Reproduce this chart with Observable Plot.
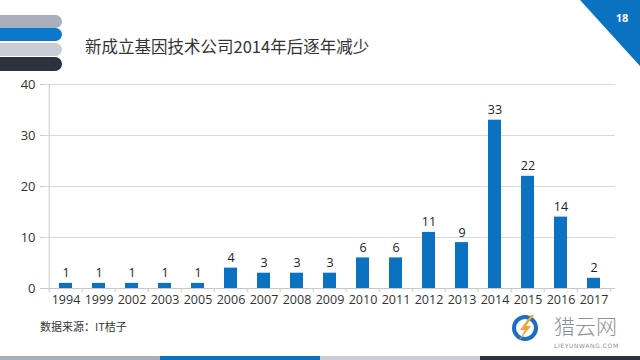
<!DOCTYPE html>
<html>
<head>
<meta charset="utf-8">
<script src="https://cdn.jsdelivr.net/npm/d3@7"></script>
<script src="https://cdn.jsdelivr.net/npm/@observablehq/plot@0.6"></script>
<style>
  html, body { margin: 0; padding: 0; background: #fff; }
  body { width: 640px; height: 360px; position: relative; overflow: hidden;
         font-family: "Open Sans", "Noto Sans CJK SC", sans-serif; }
  #chart { position: absolute; left: 0; top: 0; }
  .abs { position: absolute; }
  .stripe { position: absolute; left: 0; width: 62px; height: 13px; border-radius: 0 7px 7px 0; }
  .title { left: 85px; top: 34px; font-size: 16.5px; color: #333; font-family: "Noto Sans CJK SC", sans-serif; white-space: nowrap; }
  .source { left: 40px; top: 318px; font-size: 11px; color: #333; font-family: "Noto Sans CJK SC", sans-serif; }
  .bottom { position: absolute; top: 356px; height: 4px; width: 160px; }
</style>
</head>
<body>
<div id="chart"></div>

<div class="stripe" style="top:15px;background:#a9b0bb"></div>
<div class="stripe" style="top:28px;background:#0a78cc"></div>
<div class="stripe" style="top:43px;background:#c9cdd4"></div>
<div class="stripe" style="top:57px;background:#2b323d;height:14px"></div>

<div class="abs title">新成立基因技术公司2014年后逐年减少</div>

<svg class="abs" style="left:0;top:0" width="640" height="80">
  <polygon points="580,0 640,0 640,66" fill="#0a72c0"/>
  <text x="622" y="22" fill="#fff" font-size="11" font-weight="bold" text-anchor="middle" font-family="Open Sans, sans-serif">18</text>
</svg>

<div class="abs source">数据来源：IT桔子</div>

<svg class="abs" style="left:500px;top:300px" width="140" height="56">
  <circle cx="25" cy="28" r="11" fill="none" stroke="#1a6fc0" stroke-width="4"/>
  <polygon points="31,15 20,30 25,30 18,42 31,26 26,26 34,15" fill="#f2a43a"/>
  <text x="54" y="34" font-size="21" fill="#8c9198" font-family="Noto Sans CJK SC, sans-serif" font-weight="300">猎云网</text>
  <text x="54" y="48" font-size="6" fill="#8c9198" font-family="DejaVu Sans, sans-serif" letter-spacing="0.6">LIEYUNWANG.COM</text>
</svg>

<div class="bottom" style="left:0;background:#a9b0bb"></div>
<div class="bottom" style="left:160px;background:#0a72c0"></div>
<div class="bottom" style="left:320px;background:#c9cdd4"></div>
<div class="bottom" style="left:480px;background:#2b323d"></div>

<script>
const years = ["1994","1999","2002","2003","2005","2006","2007","2008","2009","2010","2011","2012","2013","2014","2015","2016","2017"];
const counts = [1,1,1,1,1,4,3,3,3,6,6,11,9,33,22,14,2];
const yTicks = [0,10,20,30,40];

const data = years.map((y, i) => ({year: y, count: counts[i]}));

const W = 640, H = 360, mL = 44, mR = 25, mT = 84, mB = 72;
const step = (W - mL - mR) / years.length;

const chart = Plot.plot({
  width: W, height: H,
  marginLeft: mL, marginRight: mR, marginTop: mT, marginBottom: mB,
  style: {fontFamily: "'Open Sans', sans-serif", fontSize: "12px", color: "#333", background: "transparent"},
  x: {domain: years, paddingInner: 0.62, paddingOuter: 0.31, label: null},
  y: {domain: [0, 40], label: null},
  marks: [
    Plot.gridY(yTicks, {stroke: "#d9d9d9", strokeOpacity: 1}),
    Plot.ruleX([years[0]], {dx: -step / 2, stroke: "#c8c8c8"}),
    Plot.ruleY([0], {stroke: "#c8c8c8"}),
    Plot.axisY({ticks: yTicks, tickSize: 4, tickPadding: 5, stroke: "#c8c8c8", fontSize: 13, label: null}),
    Plot.axisX({tickSize: 4, dx: -step / 2, tickFormat: () => "", stroke: "#c8c8c8", label: null}),
    Plot.axisX([years[years.length - 1]], {tickSize: 4, dx: step / 2, tickFormat: () => "", stroke: "#c8c8c8", label: null}),
    Plot.axisX({tickSize: 0, tickPadding: 7, fontSize: 12.5, label: null}),
    Plot.barY(data, {x: "year", y: "count", fill: "#0b72c1"}),
    Plot.text(data, {x: "year", y: "count", text: d => String(d.count), dy: -6, lineAnchor: "bottom", fontSize: 12.5, fill: "#222"})
  ]
});
document.getElementById("chart").appendChild(chart);
</script>
</body>
</html>
